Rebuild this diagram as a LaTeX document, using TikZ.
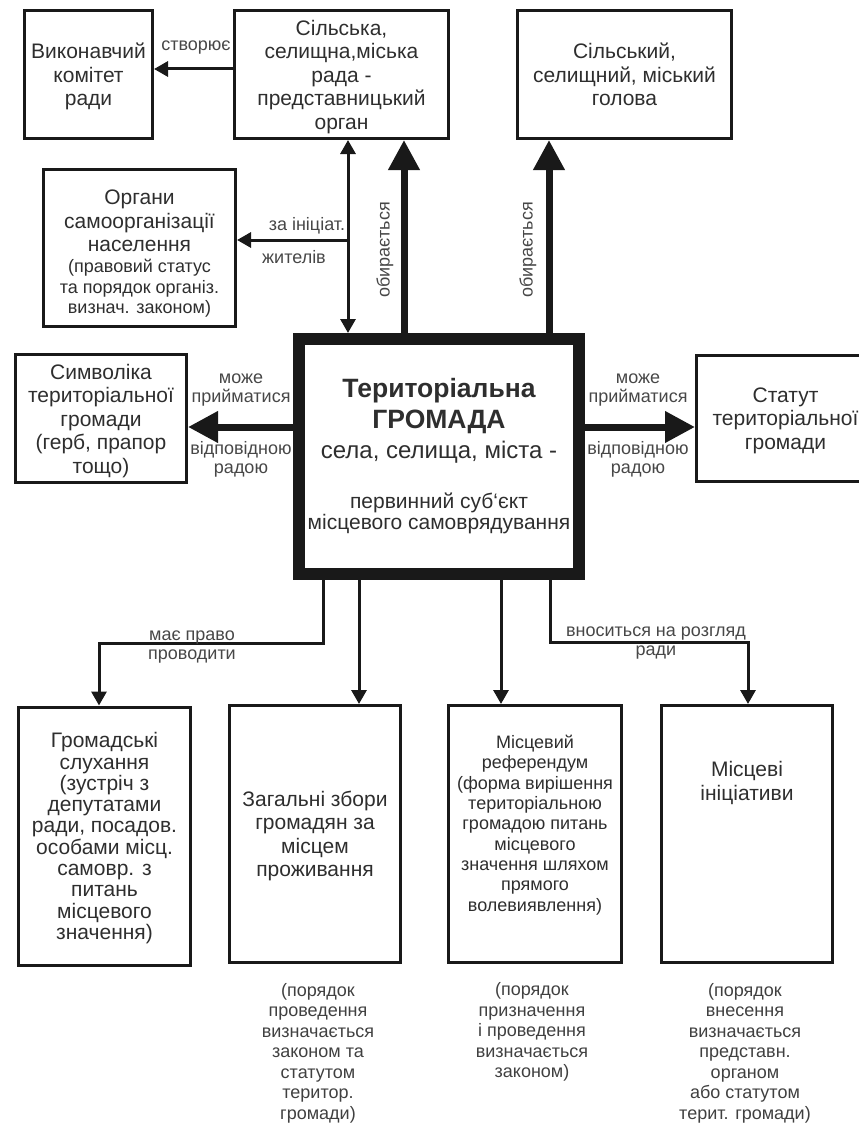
\documentclass[tikz,border=0pt]{standalone}
\usepackage{fontspec}
\setmainfont{Liberation Sans}
\usetikzlibrary{%
  arrows.meta,%
  positioning,% wg. " of "
  calc%
}
\newcommand{\boxfont}{\fontsize{21}{23.5}\selectfont}
\newcommand{\notefont}{\fontsize{18}{20.5}\selectfont}

\begin{document}
\begin{tikzpicture}
  [
  x=1pt, y=-1pt,
  font=\boxfont,
  text=black!82,
  line width=3pt, draw=black!90,
  >={Triangle[width=15pt,length=14pt]},
  boxnode/.style={rectangle, draw=black!90, line width=3pt, inner sep=0pt, align=center, text depth=0pt},
  mainnode/.style={rectangle, draw=black!90, line width=12pt, inner sep=0pt, align=center},
  textnode/.style={inner sep=0pt, align=center},
  labelnode/.style={inner sep=0pt, align=center, text=black!72, font=\fontsize{18}{19}\selectfont},
  notenode/.style={inner sep=0pt, align=center, text=black!75, font=\notefont},
  fatline/.style={line width=7pt, >={Triangle[width=30pt,length=30pt]}},
  ]

  \useasboundingbox (0,0) rectangle (859,1124);

  % upper row
  \node[boxnode, minimum width=128pt, minimum height=128pt] (vykon) at (88.5,74.5)
    {Виконавчий\\комітет\\ради};
  \node[boxnode, minimum width=214pt, minimum height=128pt] (rada) at (341.5,74.5)
    {Сільська,\\селищна,міська\\рада -\\представницький\\орган};
  \node[boxnode, minimum width=214pt, minimum height=128pt] (holova) at (624.5,74.5)
    {Сільський,\\селищний, міський\\голова};
  \node[boxnode, minimum width=192pt, minimum height=157pt] (orhany) at (139.5,248) {};
  \node[textnode] (orhanytext) at (139.5,254)
    {Органи\\самоорганізації\\населення\\[-2.5pt]
     \notefont (правовий статус\\[-3pt]\notefont та порядок організ.\\[-3pt]\notefont визнач. законом)};

  % middle row
  \node[mainnode, minimum width=280pt, minimum height=235pt, font=\fontsize{22}{30}\selectfont] (hromada) at (439,456.5)
    {\fontsize{26.5}{30}\selectfont\bfseries Територіальна\\[1pt]
     \fontsize{26.5}{30}\selectfont\bfseries ГРОМАДА\\
     \fontsize{24}{30}\selectfont села, селища, міста -\\[20pt]
     \fontsize{21}{30}\selectfont первинний суб`єкт\\[-9pt]
     \fontsize{21}{30}\selectfont місцевого самоврядування};
  \node[boxnode, minimum width=171pt, minimum height=128pt] (symvol) at (101,418.5)
    {Символіка\\територіальної\\громади\\(герб, прапор\\тощо)};
  \node[boxnode, minimum width=178pt, minimum height=126pt] (statut) at (785.5,418.5)
    {Статут\\територіальної\\громади};

  % lower row
  \node[boxnode, minimum width=172pt, minimum height=258pt, font=\fontsize{21}{21.3}\selectfont] (sluh) at (104.5,836)
    {Громадські\\слухання\\(зустріч з\\депутатами\\ради, посадов.\\особами місц.\\самовр. з\\питань\\місцевого\\значення)};
  \node[boxnode, minimum width=171pt, minimum height=257pt] (zbory) at (315,834)
    {Загальні збори\\громадян за\\місцем\\проживання};
  \node[boxnode, minimum width=173pt, minimum height=257pt] (refer) at (535,834) {};
  \node[textnode, font=\fontsize{18}{20.3}\selectfont] (refertext) at (535,825)
    {Місцевий\\референдум\\(форма вирішення\\територіальною\\громадою питань\\місцевого\\значення шляхом\\прямого\\волевиявлення)};
  \node[boxnode, minimum width=171pt, minimum height=257pt] (inits) at (747,834) {};
  \node[textnode] (initstext) at (747,783) {Місцеві\\ініціативи};

  \node[notenode] (zborynote) at (318,1053)
    {(порядок\\проведення\\визначається\\законом та\\статутом\\територ.\\громади)};
  \node[notenode] (refernote) at (532,1032)
    {(порядок\\призначення\\і проведення\\визначається\\законом)};
  \node[notenode] (initsnote) at (745,1053)
    {(порядок\\внесення\\визначається\\представн.\\органом\\або статутом\\терит. громади)};

  % connectors
  \draw[->] (rada.west |- 0,69) -- (vykon.east |- 0,69);
  \node[labelnode] (stvoryuye) at (196,48) {створює};

  \draw[<->] (rada.south -| 348,0) -- (hromada.north -| 348,0);
  \coordinate (zhyt) at (348,240);
  \draw[->] (zhyt) -- (orhany.east |- zhyt);
  \node[labelnode] (iniciat) at (307,226) {за ініціат.};
  \node[labelnode] (zhyteliv) at (294,257) {жителів};

  \draw[fatline,->] (hromada.north -| 404,0) -- (rada.south -| 404,0);
  \node[labelnode, rotate=90] (obyr1) at (385,250) {обирається};
  \draw[fatline,->] (hromada.north -| 549,0) -- (holova.south -| 549,0);
  \node[labelnode, rotate=90] (obyr2) at (528,250) {обирається};

  \draw[fatline,->] (hromada.west |- 0,427) -- (symvol.east |- 0,427);
  \node[labelnode] (mozhe1) at (241,390) {може\\прийматися};
  \node[labelnode] (radoyu1) at (241,459) {відповідною\\радою};
  \draw[fatline,->] (hromada.east |- 0,427) -- (statut.west |- 0,427);
  \node[labelnode] (mozhe2) at (638,390) {може\\прийматися};
  \node[labelnode] (radoyu2) at (638,459) {відповідною\\радою};

  \draw[->] (hromada.south -| 323,0) |- (99,643) -- (sluh.north -| 99,0);
  \node[labelnode] (pravo) at (192,647) {має право\\проводити};
  \draw[->] (hromada.south -| 359,0) -- (zbory.north -| 359,0);
  \draw[->] (hromada.south -| 501,0) -- (refer.north -| 501,0);
  \draw[->] (hromada.south -| 550,0) |- (748,642) -- (inits.north -| 748,0);
  \node[labelnode] (vnosyt) at (656,643) {вноситься на розгляд\\ради};

\end{tikzpicture}
\end{document}
